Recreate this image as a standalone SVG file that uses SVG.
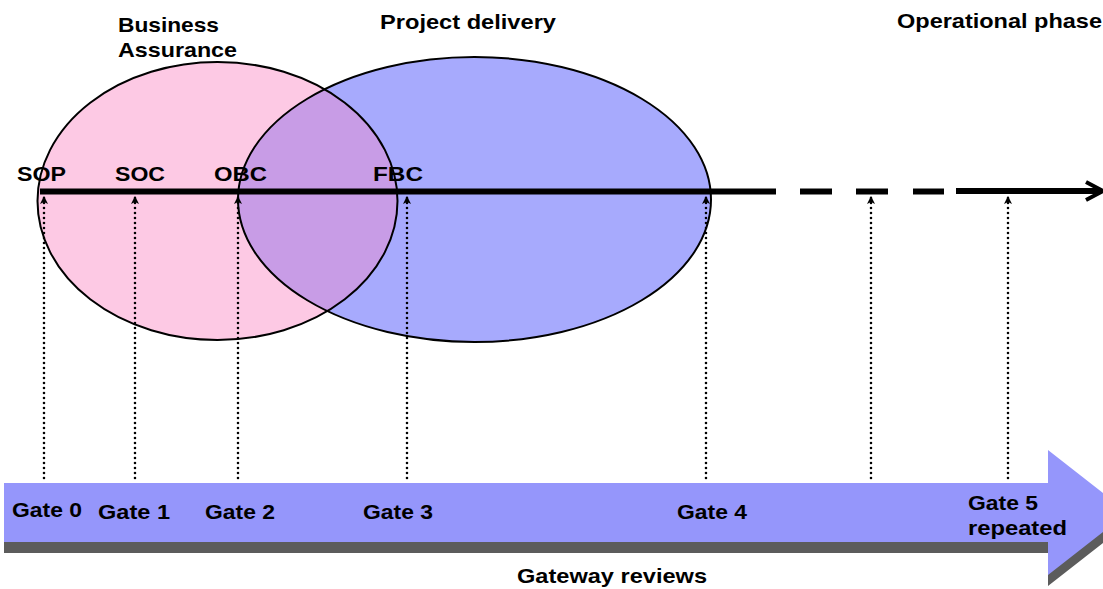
<svg xmlns="http://www.w3.org/2000/svg" width="1103" height="589" viewBox="0 0 1103 589">
  <style>
    text { font-family: "Liberation Sans", Arial, sans-serif; font-weight: bold; font-size: 20.5px; fill: #000; }
    .outline { fill: none; stroke: #000; stroke-width: 2; }
    .dotted { stroke: #000; stroke-width: 2.6; stroke-linecap: round; stroke-dasharray: 0 5; fill: none; }
    .timeline { stroke: #000; stroke-width: 6; fill: none; }
  </style>
  <defs>
    <clipPath id="pinkClip">
      <ellipse cx="217.5" cy="201" rx="180" ry="139"/>
    </clipPath>
    <marker id="tick" viewBox="0 0 8 8" refX="8" refY="4" markerWidth="8" markerHeight="8" markerUnits="userSpaceOnUse" orient="auto">
      <path d="M0,0 L8,4 L0,8 L2,4 Z" fill="#000"/>
    </marker>
  </defs>

  <rect width="1103" height="589" fill="#fff"/>

  <!-- Business assurance / project delivery phases -->
  <g id="business-assurance">
    <ellipse cx="217.5" cy="201" rx="180" ry="139" fill="#fdc9e4"/>
  </g>
  <g id="project-delivery">
    <ellipse cx="474.5" cy="199.5" rx="236.5" ry="142.5" fill="#a7aafd"/>
    <ellipse cx="474.5" cy="199.5" rx="236.5" ry="142.5" fill="#c89ce6" clip-path="url(#pinkClip)"/>
  </g>
  <g id="phase-outlines">
    <ellipse class="outline" cx="217.5" cy="201" rx="180" ry="139"/>
    <ellipse class="outline" cx="474.5" cy="199.5" rx="236.5" ry="142.5"/>
  </g>

  <!-- Gateway reviews band -->
  <g id="gateway-reviews">
    <path d="M4,494 H1048 V461 L1128,523.5 L1048,586 V553 H4 Z" fill="#5c5c5c"/>
    <path d="M4,483 H1048 V450 L1128,512.5 L1048,575 V542 H4 Z" fill="#9596fb"/>
  </g>

  <!-- Connectors: business case timeline and gate review links -->
  <g id="connectors">
    <line class="timeline" x1="40" y1="191.5" x2="776" y2="191.5"/>
    <line class="timeline" x1="800" y1="191.5" x2="832" y2="191.5"/>
    <line class="timeline" x1="856" y1="191.5" x2="888" y2="191.5"/>
    <line class="timeline" x1="913" y1="191.5" x2="944" y2="191.5"/>
    <line class="timeline" x1="956" y1="191" x2="1100" y2="191"/>
    <polyline points="1086,182 1103,191 1086,200" fill="none" stroke="#000" stroke-width="4"/>

    <line class="dotted" x1="44" y1="478" x2="44" y2="196" marker-end="url(#tick)"/>
    <line class="dotted" x1="135" y1="478" x2="135" y2="196" marker-end="url(#tick)"/>
    <line class="dotted" x1="238" y1="478" x2="238" y2="196" marker-end="url(#tick)"/>
    <line class="dotted" x1="407" y1="478" x2="407" y2="196" marker-end="url(#tick)"/>
    <line class="dotted" x1="706" y1="478" x2="706" y2="196" marker-end="url(#tick)"/>
    <line class="dotted" x1="871" y1="478" x2="871" y2="196" marker-end="url(#tick)"/>
    <line class="dotted" x1="1008" y1="478" x2="1008" y2="196" marker-end="url(#tick)"/>
  </g>

  <!-- Phase headings -->
  <g id="headings">
    <text x="118" y="32" textLength="101" lengthAdjust="spacingAndGlyphs">Business</text>
    <text x="118" y="57" textLength="119" lengthAdjust="spacingAndGlyphs">Assurance</text>
    <text x="380" y="29" textLength="176" lengthAdjust="spacingAndGlyphs">Project delivery</text>
    <text x="897" y="28" textLength="205" lengthAdjust="spacingAndGlyphs">Operational phase</text>
  </g>

  <!-- Business case milestones -->
  <g id="milestones">
    <text x="17" y="181" textLength="49" lengthAdjust="spacingAndGlyphs">SOP</text>
    <text x="115" y="181" textLength="50" lengthAdjust="spacingAndGlyphs">SOC</text>
    <text x="214" y="181" textLength="53" lengthAdjust="spacingAndGlyphs">OBC</text>
    <text x="373" y="181" textLength="50" lengthAdjust="spacingAndGlyphs">FBC</text>
  </g>

  <!-- Gate labels -->
  <g id="gates">
    <text x="12" y="517" textLength="70" lengthAdjust="spacingAndGlyphs">Gate 0</text>
    <text x="98" y="519" textLength="72" lengthAdjust="spacingAndGlyphs">Gate 1</text>
    <text x="205" y="519" textLength="70" lengthAdjust="spacingAndGlyphs">Gate 2</text>
    <text x="363" y="519" textLength="70" lengthAdjust="spacingAndGlyphs">Gate 3</text>
    <text x="677" y="519" textLength="70" lengthAdjust="spacingAndGlyphs">Gate 4</text>
    <text x="968" y="510" textLength="70" lengthAdjust="spacingAndGlyphs">Gate 5</text>
    <text x="968" y="535" textLength="99" lengthAdjust="spacingAndGlyphs">repeated</text>
    <text x="517" y="583" textLength="190" lengthAdjust="spacingAndGlyphs">Gateway reviews</text>
  </g>
</svg>
